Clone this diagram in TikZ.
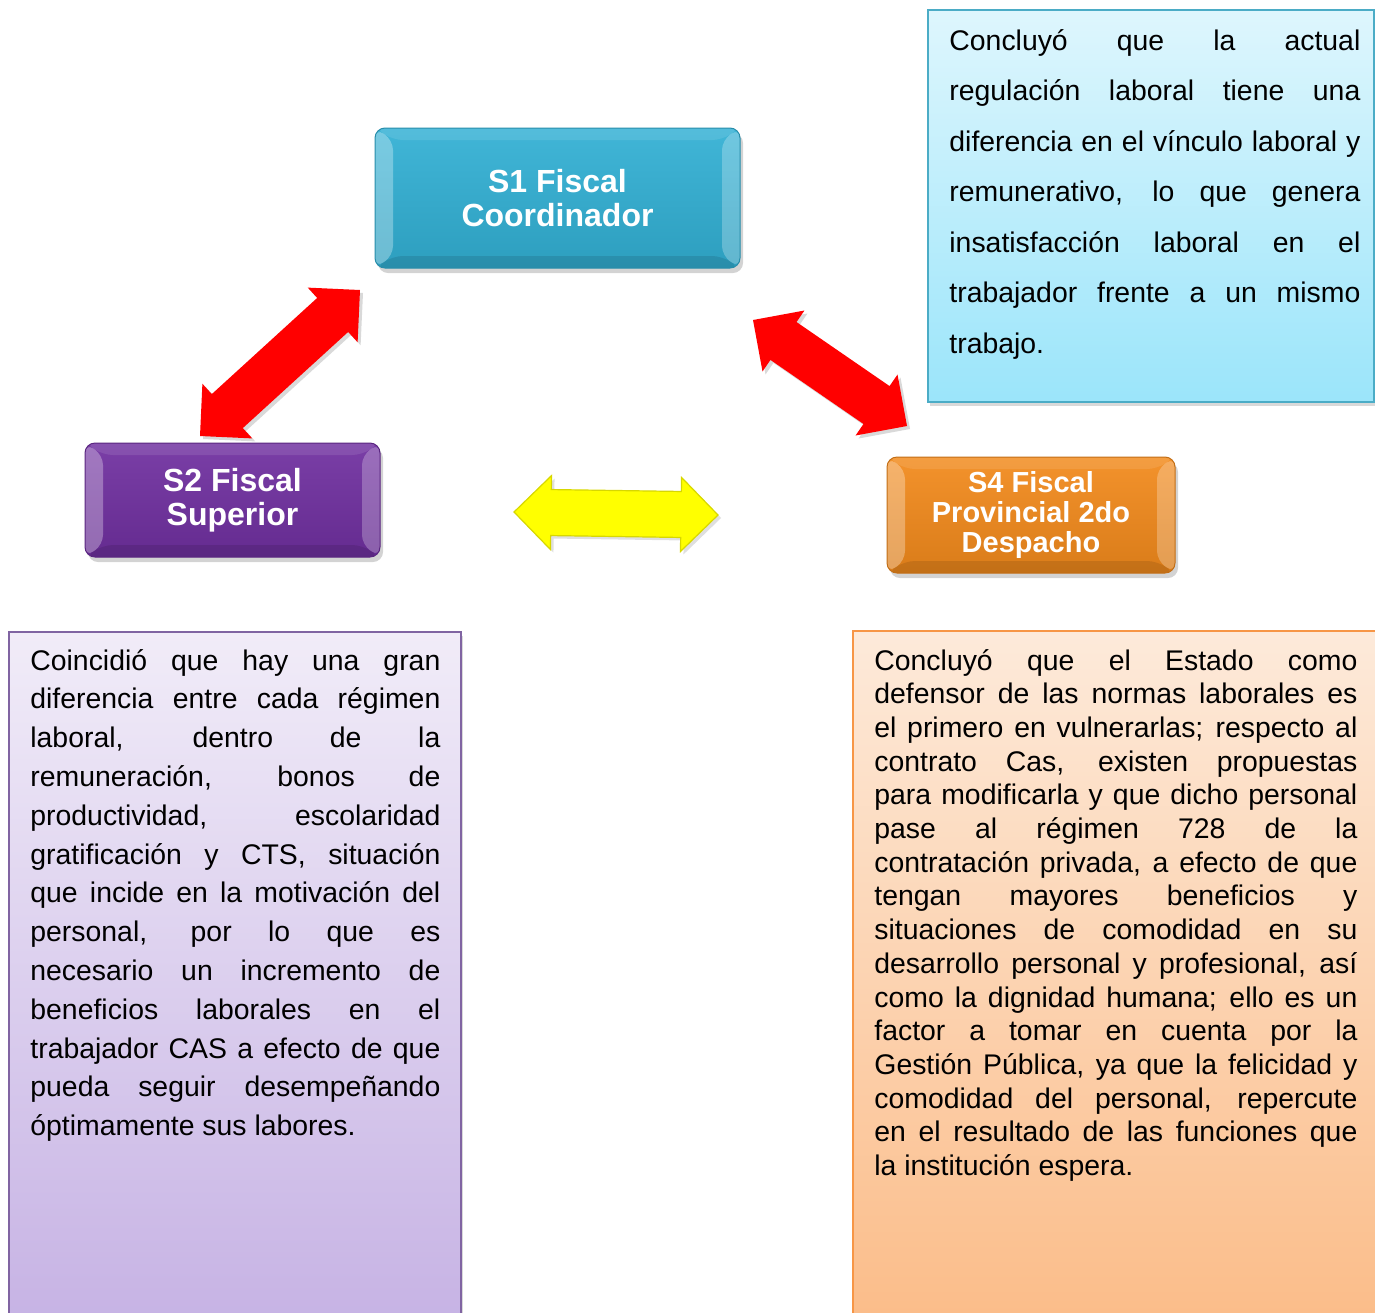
\documentclass[tikz,border=0pt]{standalone}
\usepackage{fontspec}
\setmainfont{Liberation Sans}
\usetikzlibrary{calc,shadows}
\definecolor{coordcol}{RGB}{50,176,212}
\definecolor{supcol}{RGB}{112,48,160}
\definecolor{provcol}{RGB}{242,138,28}
\definecolor{arrowred}{RGB}{255,0,0}
\definecolor{arrowyel}{RGB}{255,255,0}
\definecolor{yeledge}{RGB}{215,215,0}
\hyphenpenalty=10000
\exhyphenpenalty=10000
\tolerance=10000

% block double arrow between two named points
\newcommand{\dblarrow}[3]{%
  \fill[#1] (#2) -- ($(#2)!18.5pt!(#3)!18.5pt!90:(#3)$) -- ($(#2)!18.5pt!(#3)!11.5pt!90:(#3)$)
    -- ($(#3)!18.5pt!(#2)!11.5pt!-90:(#2)$) -- ($(#3)!18.5pt!(#2)!18.5pt!-90:(#2)$)
    -- (#3) -- ($(#3)!18.5pt!(#2)!18.5pt!90:(#2)$) -- ($(#3)!18.5pt!(#2)!11.5pt!90:(#2)$)
    -- ($(#2)!18.5pt!(#3)!11.5pt!-90:(#3)$) -- ($(#2)!18.5pt!(#3)!18.5pt!-90:(#3)$) -- cycle;}

\begin{document}
\begin{tikzpicture}[x=0.5pt,y=-0.5pt,
    fiscal/.style={rounded corners=5pt, draw=#1!80!black, line width=.5pt,
      top color=#1!93!white, bottom color=#1!90!black, text=white, align=center,
      inner sep=0pt, font=\bfseries,
      drop shadow={opacity=.35,shadow xshift=1.5pt,shadow yshift=-2.5pt},
      path picture={
        \fill[white,opacity=.3] (path picture bounding box.north west) -- (path picture bounding box.south west)
          -- ([shift={(9pt,6pt)}]path picture bounding box.south west) -- ([shift={(9pt,-6pt)}]path picture bounding box.north west) -- cycle;
        \fill[white,opacity=.25] (path picture bounding box.north east) -- (path picture bounding box.south east)
          -- ([shift={(-9pt,6pt)}]path picture bounding box.south east) -- ([shift={(-9pt,-6pt)}]path picture bounding box.north east) -- cycle;
        \fill[white,opacity=.1] (path picture bounding box.north west) -- (path picture bounding box.north east)
          -- ([shift={(-9pt,-6pt)}]path picture bounding box.north east) -- ([shift={(9pt,-6pt)}]path picture bounding box.north west) -- cycle;
        \fill[black,opacity=.1] (path picture bounding box.south west) -- (path picture bounding box.south east)
          -- ([shift={(-9pt,6pt)}]path picture bounding box.south east) -- ([shift={(9pt,6pt)}]path picture bounding box.south west) -- cycle;
      }},
    infobox/.style={line width=.8pt, drop shadow={opacity=.3,shadow xshift=1pt,shadow yshift=-2pt}},
    bodytext/.style={anchor=base west, inner sep=0pt, align=justify, text width=#1},
    redarrow/.style={arrowred, drop shadow={opacity=.3,shadow xshift=1.5pt,shadow yshift=-1.5pt}},
    yelarrow/.style={arrowyel, draw=yeledge, line width=.6pt, drop shadow={opacity=.25,shadow xshift=1.5pt,shadow yshift=-1.5pt}}]
    \useasboundingbox (0,0) rectangle (1375,1312);

    % Text frames
    \draw[infobox, draw={rgb,255:red,75;green,172;blue,198}, top color={rgb,255:red,222;green,246;blue,253}, bottom color={rgb,255:red,155;green,229;blue,250}] (928,10) rectangle (1374,402);
    \draw[infobox, draw={rgb,255:red,128;green,100;blue,162}, top color={rgb,255:red,241;green,236;blue,248}, bottom color={rgb,255:red,198;green,178;blue,228}] (9,632) rectangle (461,1330);
    \draw[infobox, draw={rgb,255:red,247;green,150;blue,70}, top color={rgb,255:red,253;green,234;blue,218}, bottom color={rgb,255:red,251;green,188;blue,136}] (853,631) rectangle (1390,1330);

    % Fiscal boxes
    \node[fiscal=coordcol, minimum width=182.5pt, minimum height=70pt, font=\fontsize{16}{17}\bfseries] (s1) at (557.5,198) {S1 Fiscal\\Coordinador};
    \node[fiscal=supcol, minimum width=147.5pt, minimum height=57pt, font=\fontsize{16}{17}\bfseries] (s2) at (232.5,500) {\raisebox{-1.5pt}{S2 Fiscal}\\\raisebox{-1.5pt}{Superior}};
    \node[fiscal=provcol, minimum width=144pt, minimum height=58pt, font=\fontsize{14.5}{15}\bfseries] (s4) at (1031,515) {\raisebox{-1pt}{S4 Fiscal}\\\raisebox{-1pt}{Provincial 2do}\\\raisebox{-1pt}{Despacho}};

    % Arrows
    \coordinate (r1a) at (200,436);
    \coordinate (r1b) at (360,290);
    \coordinate (r2a) at (753,320);
    \coordinate (r2b) at (907,426);
    \coordinate (ya) at (514,512);
    \coordinate (yb) at (718,515);
    \dblarrow{redarrow}{r1a}{r1b}
    \dblarrow{redarrow}{r2a}{r2b}
    \dblarrow{yelarrow}{ya}{yb}

    % Conclusions
    \node[bodytext=205.5pt, font=\fontsize{14.2}{25.25}\selectfont] (t1) at (949,50) {Concluyó que la actual\linebreak regulación laboral tiene una\linebreak diferencia en el vínculo laboral y\linebreak remunerativo, lo que genera\linebreak insatisfacción laboral en el\linebreak trabajador frente a un mismo\linebreak trabajo.};
    \node[bodytext=205pt, font=\fontsize{14.2}{19.4}\selectfont] (t2) at (30,670) {Coincidió que hay una gran\linebreak diferencia entre cada régimen\linebreak laboral, dentro de la\linebreak remuneración, bonos de\linebreak productividad, escolaridad\linebreak gratificación y CTS, situación\linebreak que incide en la motivación del\linebreak personal, por lo que es\linebreak necesario un incremento de\linebreak beneficios laborales en el\linebreak trabajador CAS a efecto de que\linebreak pueda seguir desempeñando\linebreak óptimamente sus labores.};
    \node[bodytext=241.5pt, font=\fontsize{14.2}{16.85}\selectfont] (t4) at (874,670) {Concluyó que el Estado como\linebreak defensor de las normas laborales es\linebreak el primero en vulnerarlas; respecto al\linebreak contrato Cas, existen propuestas\linebreak para modificarla y que dicho personal\linebreak pase al régimen 728 de la\linebreak contratación privada, a efecto de que\linebreak tengan mayores beneficios y\linebreak situaciones de comodidad en su\linebreak desarrollo personal y profesional, así\linebreak como la dignidad humana; ello es un\linebreak factor a tomar en cuenta por la\linebreak Gestión Pública, ya que la felicidad y\linebreak comodidad del personal, repercute\linebreak en el resultado de las funciones que\linebreak la institución espera.};
\end{tikzpicture}
\end{document}
